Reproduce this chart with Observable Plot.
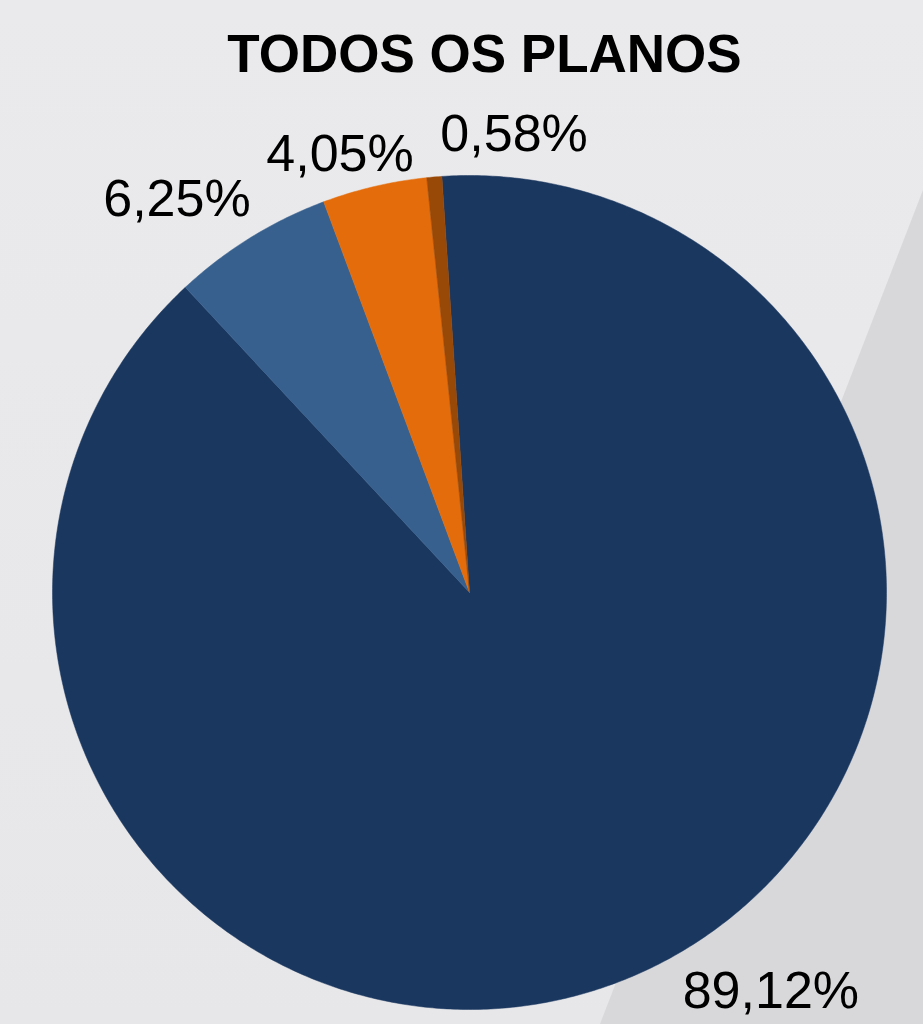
<!DOCTYPE html>
<html>
<head>
<meta charset="utf-8">
<script src="https://cdn.jsdelivr.net/npm/d3@7"></script>
<script src="https://cdn.jsdelivr.net/npm/@observablehq/plot@0.6"></script>
<style>
  html, body { margin: 0; padding: 0; }
  body {
    width: 923px; height: 1024px; overflow: hidden; position: relative;
    background: linear-gradient(180deg, #eaeaec 0%, #e7e7e9 100%);
    font-family: "Liberation Sans", Arial, sans-serif;
  }
  #shade {
    position: absolute; left: 0; top: 0; width: 923px; height: 1024px;
    background: #d8d8da;
    clip-path: polygon(923px 190px, 600px 1024px, 923px 1024px);
  }
  #title {
    position: relative; height: 95px; box-sizing: border-box;
    padding-top: 27px; line-height: 53px;
    font-size: 53px; font-weight: bold; color: #000;
    text-align: center; padding-left: 46px;
  }
  #chart { position: relative; }
  #chart svg { background: none; overflow: visible; }
</style>
</head>
<body>
<div id="shade"></div>
<div id="title">TODOS OS PLANOS</div>
<div id="chart"></div>
<script>
// Data
const categories = ["A", "B", "C", "D"];
const values = [89.12, 6.25, 4.05, 0.58];
const labels = ["89,12%", "6,25%", "4,05%", "0,58%"];
const colors = ["#1a375f", "#37608f", "#e46c0a", "#984807"];

// Layout (not data)
const startDeg = -3.8;           // first slice angle, clockwise from 12 o'clock
const labelRadius = 1.12;
const labelOffsets = [[116, -13], [-47, 21], [-23, 33], [84, 24]];

const total = d3.sum(values);
const rad = Math.PI / 180;
const slices = [];
let acc = startDeg;
values.forEach((v, i) => {
  const a0 = acc, a1 = acc + v / total * 360;
  acc = a1;
  slices.push({cat: categories[i], a0, a1, mid: (a0 + a1) / 2, label: labels[i], i});
});

// Polygon points for each slice (in unit-circle data space)
const pts = [];
for (const s of slices) {
  pts.push({cat: s.cat, x: 0, y: 0});
  const n = Math.max(2, Math.ceil((s.a1 - s.a0) / 0.5));
  for (let k = 0; k <= n; k++) {
    const a = (s.a0 + (s.a1 - s.a0) * k / n) * rad;
    pts.push({cat: s.cat, x: Math.sin(a), y: Math.cos(a)});
  }
  pts.push({cat: s.cat, x: 0, y: 0});
}

const labelMarks = slices.map(s => Plot.text([s], {
  x: d => labelRadius * Math.sin(d.mid * rad),
  y: d => labelRadius * Math.cos(d.mid * rad),
  text: "label",
  dx: labelOffsets[s.i][0],
  dy: labelOffsets[s.i][1],
  lineAnchor: "bottom",
  textAnchor: "middle",
  fontSize: 52,
  fill: "#000"
}));

const plot = Plot.plot({
  width: 923,
  height: 929,
  margin: 0,
  style: {background: "none", fontFamily: "'Liberation Sans', Arial, sans-serif"},
  x: {type: "linear", domain: [-1, 1], range: [52, 886], axis: null},
  y: {type: "linear", domain: [-1, 1], range: [914, 80], axis: null},
  color: {domain: categories, range: colors},
  marks: [
    Plot.line(pts, {x: "x", y: "y", z: "cat", fill: "cat", stroke: "cat", strokeWidth: 0.5, curve: "linear"}),
    ...labelMarks
  ]
});
document.getElementById("chart").appendChild(plot);
</script>
</body>
</html>
